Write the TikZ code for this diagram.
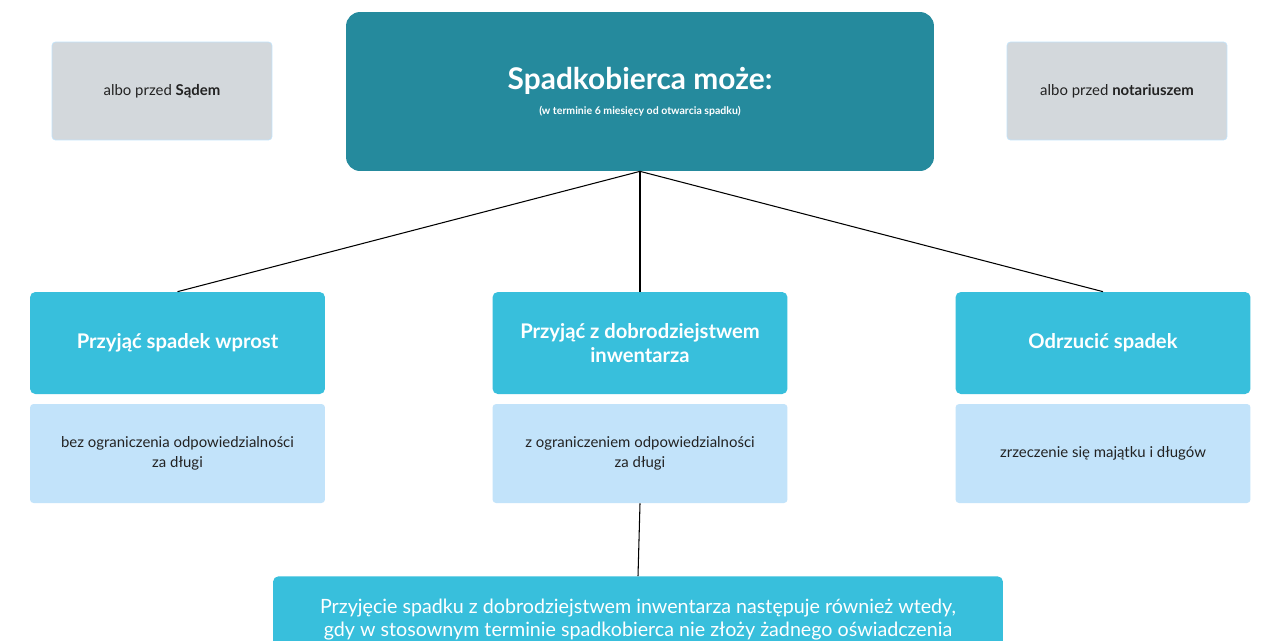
\documentclass[tikz,border=0pt]{standalone}
\usepackage{fontspec}
\setmainfont{Lato}
\usetikzlibrary{positioning}
\definecolor{tteal}{HTML}{258A9D}
\definecolor{tcyan}{HTML}{38BFDC}
\definecolor{tlight}{HTML}{C2E3FA}
\definecolor{tgray}{HTML}{D3D8DC}
\definecolor{ttext}{HTML}{222222}
\begin{document}
\begin{tikzpicture}[
    x=0.02cm, y=-0.02cm,
    glowny/.style={rectangle, rounded corners=8pt, fill=tteal, text=white,
                   minimum width=11.76cm, minimum height=3.18cm, align=center},
    szary/.style={rectangle, rounded corners=2pt, fill=tgray, draw=tlight,
                  minimum width=4.4cm, minimum height=1.96cm, align=center,
                  font=\fontsize{8.5}{10}\selectfont, text=ttext},
    opcja/.style={rectangle, rounded corners=3pt, fill=tcyan, text=white,
                  minimum width=5.9cm, minimum height=2.04cm, align=center,
                  font=\fontsize{11.5}{14}\selectfont\bfseries},
    opis/.style={rectangle, rounded corners=2pt, fill=tlight, text=ttext,
                 minimum width=5.9cm, minimum height=1.98cm, align=center,
                 font=\fontsize{8.5}{11}\selectfont},
    linia/.style={draw=black, line width=0.6pt}
  ]
  \clip (0,0) rectangle (1280,640);
  \fill[white] (0,0) rectangle (1280,640);
  \node[glowny] (glowny) at (640,91.5)
    {{\fontsize{17}{20}\selectfont\bfseries Spadkobierca może:}\\[2pt]
     {\fontsize{6}{7}\selectfont\bfseries (w terminie 6 miesięcy od otwarcia spadku)}};
  \node[szary] (sad) at (162,91) {albo przed \textbf{Sądem}};
  \node[szary] (notariusz) at (1117,91) {albo przed \textbf{notariuszem}};

  \node[opcja] (wprost) at (177.5,343) {Przyjąć spadek wprost};
  \node[opcja] (inwentarz) at (640,343) {Przyjąć z dobrodziejstwem\\inwentarza};
  \node[opcja] (odrzucic) at (1103,343) {Odrzucić spadek};

  \node[opis] (wprostopis) at (177.5,453.5) {bez ograniczenia odpowiedzialności\\za długi};
  \node[opis] (inwentarzopis) at (640,453.5) {z ograniczeniem odpowiedzialności\\za długi};
  \node[opis] (odrzucicopis) at (1103,453.5) {zrzeczenie się majątku i długów};

  \node[rectangle, rounded corners=3pt, fill=tcyan, text=white, anchor=north,
        minimum width=14.6cm, minimum height=2.4cm, align=center, inner sep=0pt,
        font=\fontsize{11.2}{13.5}\selectfont] (dorozumiane) at (638,576)
    {\rule{0pt}{14pt}Przyjęcie spadku z dobrodziejstwem inwentarza następuje również wtedy,\\
     gdy w stosownym terminie spadkobierca nie złoży żadnego oświadczenia\\ \mbox{}\\ \mbox{}};

  \draw[linia] (glowny.south) -- (wprost.north);
  \draw[linia] (glowny.south) -- (inwentarz.north);
  \draw[linia] (glowny.south) -- (odrzucic.north);
  \draw[linia] (inwentarzopis.south) -- (dorozumiane.north);
\end{tikzpicture}
\end{document}
